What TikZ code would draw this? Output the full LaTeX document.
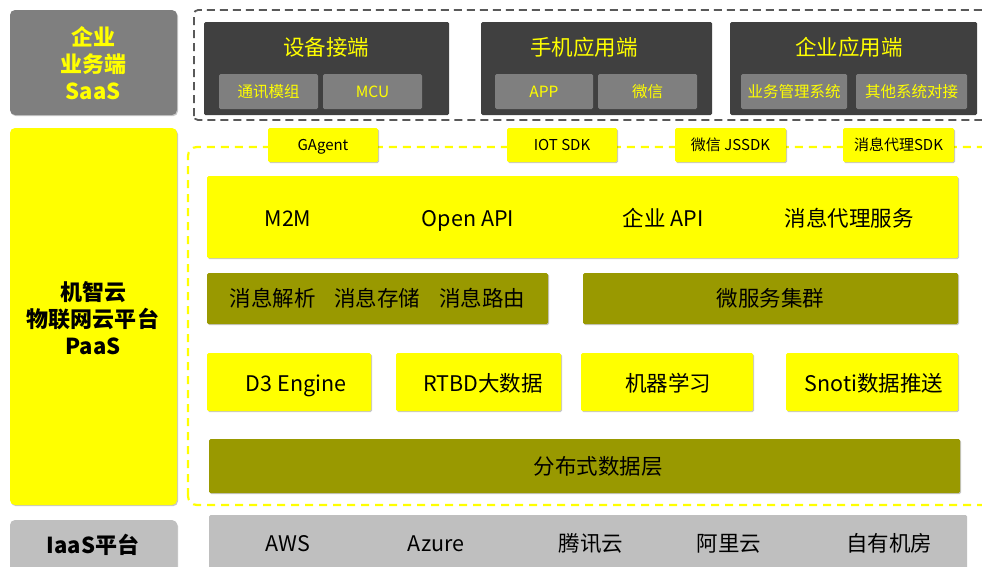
\documentclass[tikz,border=0pt]{standalone}
\usepackage{fontspec}
\setmainfont{Noto Sans CJK SC}
\usetikzlibrary{shadows}
\definecolor{ylw}{HTML}{FFFF00}
\definecolor{olv}{HTML}{999900}
\definecolor{dk}{HTML}{404040}
\definecolor{md}{HTML}{7F7F7F}
\definecolor{lt}{HTML}{BFBFBF}
\definecolor{dsh}{HTML}{595959}
\newcommand{\fz}[1]{\fontsize{#1}{1.22\dimexpr#1pt\relax}\selectfont}
\begin{document}
\begin{tikzpicture}[x=1pt,y=-1pt,
  blk/.style={anchor=north west, inner sep=0pt, outer sep=0pt, rounded corners=1.5pt},
  tbl/.style={text height=18.9pt, text depth=2.6pt},
  tbs/.style={text height=13.5pt, text depth=1.8pt},
  shd/.style={drop shadow={shadow xshift=1pt, shadow yshift=-1.2pt, opacity=0.22, fill=black}},
  side/.style={blk, rounded corners=5pt, shd},
  sidetxt/.style={align=center, font=\fz{22}\bfseries, inner sep=0pt},
  darkbox/.style={blk, fill=dk},
  subbox/.style={blk, fill=md, text=ylw, font=\fz{15.5}, tbs},
  sdk/.style={blk, fill=ylw, shd, font=\fz{15}, tbs},
  ybox/.style={blk, fill=ylw, shd, font=\fz{21.5}},
  obox/.style={blk, fill=olv, shd, font=\fz{21.5}, tbl},
  txt/.style={inner sep=0pt, font=\fz{21.5}, tbl},
]
\useasboundingbox (0,0) rectangle (982,566);

% ---------- SaaS ----------
\node[side, fill=md, minimum width=167pt, minimum height=105pt] (saas) at (10,10) {};
\node[sidetxt, text=ylw] (saast) at (93,63) {企业\\业务端\\SaaS};

\draw[dsh, line width=1.8pt, dash pattern=on 8pt off 5pt, rounded corners=4pt]
  (194,120) coordinate (gl) rectangle (990,10) coordinate (gr);

\node[darkbox, minimum width=245pt, minimum height=93pt] (dev) at (204,22) {};
\node[txt, text=ylw] (devt) at (326,47) {设备接端};
\node[subbox, minimum width=99pt, minimum height=35pt] (s1) at (219,74) {通讯模组};
\node[subbox, minimum width=99pt, minimum height=35pt] (s2) at (323,74) {MCU};

\node[darkbox, minimum width=231pt, minimum height=93pt] (mob) at (481,22) {};
\node[txt, text=ylw] (mobt) at (584,47) {手机应用端};
\node[subbox, minimum width=98pt, minimum height=35pt] (s3) at (495,74) {APP};
\node[subbox, minimum width=99pt, minimum height=35pt] (s4) at (598,74) {微信};

\node[darkbox, minimum width=247pt, minimum height=93pt] (ent) at (730,22) {};
\node[txt, text=ylw] (entt) at (849,47) {企业应用端};
\node[subbox, minimum width=106pt, minimum height=35pt] (s5) at (741,74) {业务管理系统};
\node[subbox, minimum width=111pt, minimum height=35pt] (s6) at (856,74) {其他系统对接};

% ---------- PaaS ----------
\node[side, fill=ylw, minimum width=167pt, minimum height=377pt] (paas) at (10,128) {};
\node[sidetxt, text=black] (paast) at (93,318) {机智云\\物联网云平台\\PaaS};

\draw[ylw, line width=2.2pt, dash pattern=on 8pt off 6pt, rounded corners=9pt]
  (188,505) coordinate (yl) rectangle (995,147) coordinate (yr);

\node[sdk, minimum width=110pt, minimum height=34pt] (k1) at (268,128) {GAgent};
\node[sdk, minimum width=110pt, minimum height=34pt] (k2) at (507,128) {IOT SDK};
\node[sdk, minimum width=111pt, minimum height=34pt] (k3) at (675,128) {微信 JSSDK};
\node[sdk, minimum width=111pt, minimum height=34pt] (k4) at (843,128) {消息代理SDK};

\node[ybox, minimum width=751pt, minimum height=82pt] (api) at (207,176) {};
\node[txt] (a1) at (288,218) {M2M};
\node[txt] (a2) at (468,218) {Open API};
\node[txt] (a3) at (663,218) {企业 API};
\node[txt] (a4) at (849,218) {消息代理服务};

\node[obox, minimum width=341pt, minimum height=51pt] (msg) at (207,273)
  {消息解析\hspace{19pt}消息存储\hspace{19pt}消息路由};
\node[obox, minimum width=375pt, minimum height=51pt] (micro) at (583,273) {微服务集群};

\node[ybox, minimum width=164pt, minimum height=58pt] (d3) at (207,353) {};
\node[txt] (d3t) at (296,383) {D3 Engine};
\node[ybox, minimum width=165pt, minimum height=58pt] (rt) at (396,353) {};
\node[txt] (rtt) at (483,383) {RTBD大数据};
\node[ybox, minimum width=172pt, minimum height=58pt] (ml) at (581,353) {};
\node[txt] (mlt) at (668,383) {机器学习};
\node[ybox, minimum width=172pt, minimum height=58pt] (sn) at (786,353) {};
\node[txt] (snt) at (874,383) {Snoti数据推送};

\node[obox, minimum width=751pt, minimum height=54pt] (dist) at (209,439) {};
\node[txt] (distt) at (598,466) {分布式数据层};

% ---------- IaaS ----------
\node[side, fill=lt, minimum width=167pt, minimum height=60pt] (iaas) at (10,520) {};
\node[sidetxt, text=black] (iaast) at (93,545) {IaaS平台};

\node[blk, fill=lt, minimum width=758pt, minimum height=60pt] (infra) at (209,515) {};
\node[txt] (i1) at (288,543) {AWS};
\node[txt] (i2) at (436,543) {Azure};
\node[txt] (i3) at (591,543) {腾讯云};
\node[txt] (i4) at (729,543) {阿里云};
\node[txt] (i5) at (889,543) {自有机房};
\end{tikzpicture}
\end{document}
